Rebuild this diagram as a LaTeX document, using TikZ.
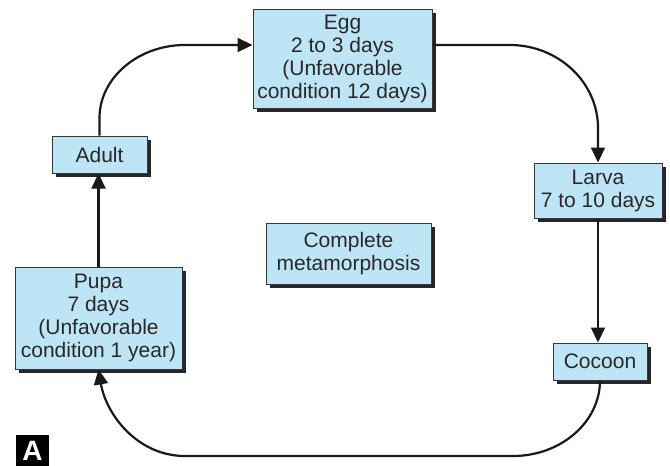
\documentclass[tikz,border=0pt]{standalone}
\usepackage{fontspec}
\setmainfont{Liberation Sans}
\usetikzlibrary{arrows.meta,shadows}
\definecolor{boxfill}{RGB}{190,229,246}
\definecolor{inkgray}{RGB}{40,40,40}
\definecolor{edgegray}{RGB}{55,55,55}
\begin{document}
\begin{tikzpicture}[x=1pt,y=-1pt,
  stage/.style={draw=edgegray, line width=1pt, fill=boxfill, align=center,
    inner sep=0pt, text=inkgray,
    font=\fontsize{21}{23}\selectfont,
    drop shadow={shadow xshift=3.5pt, shadow yshift=-3.5pt, fill=black!85, opacity=1}},
  flow/.style={line width=2.2pt, draw=black!90,
    -{Triangle[length=15pt,width=14pt]}}]
  \useasboundingbox (0,0) rectangle (670,466);
  \fill[white] (0,0) rectangle (670,466);

  % life-cycle stages
  \node[stage, minimum width=179pt, minimum height=99pt] (egg) at (342.5,58.5)
    {Egg\\2 to 3 days\\(Unfavorable\\condition 12 days)};
  \node[stage, minimum width=128pt, minimum height=55pt] (larva) at (598,190.5)
    {Larva\\7 to 10 days};
  \node[stage, minimum width=94pt, minimum height=37pt] (cocoon) at (600,361.5)
    {Cocoon};
  \node[stage, minimum width=167pt, minimum height=102pt] (pupa) at (98.5,318)
    {Pupa\\7 days\\(Unfavorable\\condition 1 year)};
  \node[stage, minimum width=95pt, minimum height=37pt] (adult) at (99.5,154.5)
    {Adult};
  \node[stage, minimum width=165pt, minimum height=61pt] (center) at (348.5,253.5)
    {Complete\\metamorphosis};

  % panel letter
  \node[fill=black, text=white, inner sep=0pt, minimum width=33pt,
    minimum height=31pt, font=\fontsize{28}{28}\selectfont\bfseries]
    (panel) at (32.5,450.5) {A};

  % cycle connectors
  \draw[flow] (adult.north) -- (99.5,118)
    .. controls (99.5,78) and (138,45) .. (185,45)
    -- ([yshift=13.5pt]egg.west);
  \draw[flow] ([yshift=13.5pt]egg.east) -- (510,45)
    .. controls (558,45) and (598,82) .. (598,128)
    -- (larva.north);
  \draw[flow] (larva.south) -- (larva.south |- cocoon.north);
  \draw[flow] (cocoon.south)
    .. controls (600,422) and (561,456) .. (513,456)
    -- (185,456)
    .. controls (137,456) and (106,414) .. (pupa.south);
  \draw[flow] (pupa.north) -- (pupa.north |- adult.south);
\end{tikzpicture}
\end{document}
